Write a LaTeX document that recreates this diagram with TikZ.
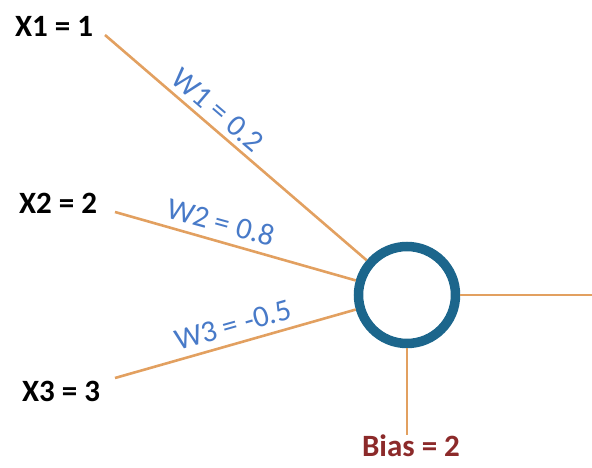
\documentclass[tikz,border=0pt]{standalone}
\usepackage{fontspec}
\setmainfont{Carlito}
\definecolor{wire}{RGB}{226,160,96}
\definecolor{ring}{RGB}{28,102,140}
\definecolor{wblue}{RGB}{72,122,200}
\definecolor{biasred}{RGB}{140,42,42}
\begin{document}
\begin{tikzpicture}[x=1pt,y=-1pt,
  inlab/.style={font=\fontsize{31}{33}\selectfont\bfseries, text=black, inner sep=0pt},
  wlab/.style={font=\fontsize{30.5}{32}\selectfont, text=wblue, inner sep=0pt},
  wire/.style={draw=wire, line width=2.6pt},
  neuron/.style={circle, draw=ring, line width=9.5pt, minimum size=97pt, inner sep=0pt}]
  \useasboundingbox (0,0) rectangle (592,468);

  % input labels and the start points of their wires
  \node[inlab] (x1) at (54,26) {X1 = 1};
  \node[inlab] (x2) at (58,203) {X2 = 2};
  \node[inlab] (x3) at (61,391) {X3 = 3};
  \coordinate (s1) at (105,35);
  \coordinate (s2) at (115,212);
  \coordinate (s3) at (115,378);

  % the neuron
  \node[neuron] (n) at (407,295) {};

  % wires into and out of the neuron
  \draw[wire] (s1) -- (n);
  \draw[wire] (s2) -- (n);
  \draw[wire] (s3) -- (n);
  \coordinate (out) at (592,295);
  \draw[wire] (n.east) -- (out);

  % bias
  \node[inlab, text=biasred] (bias) at (411,446) {Bias = 2};
  \draw[wire] (n.south) -- (n.south |- bias.north);

  % weights along the wires
  \node[wlab, rotate=-40.6] (w1) at (218,110) {W1 = 0.2};
  \node[wlab, rotate=-15.4] (w2) at (221,222) {W2 = 0.8};
  \node[wlab, rotate=15.8] (w3) at (233,325) {W3 = -0.5};
\end{tikzpicture}
\end{document}
